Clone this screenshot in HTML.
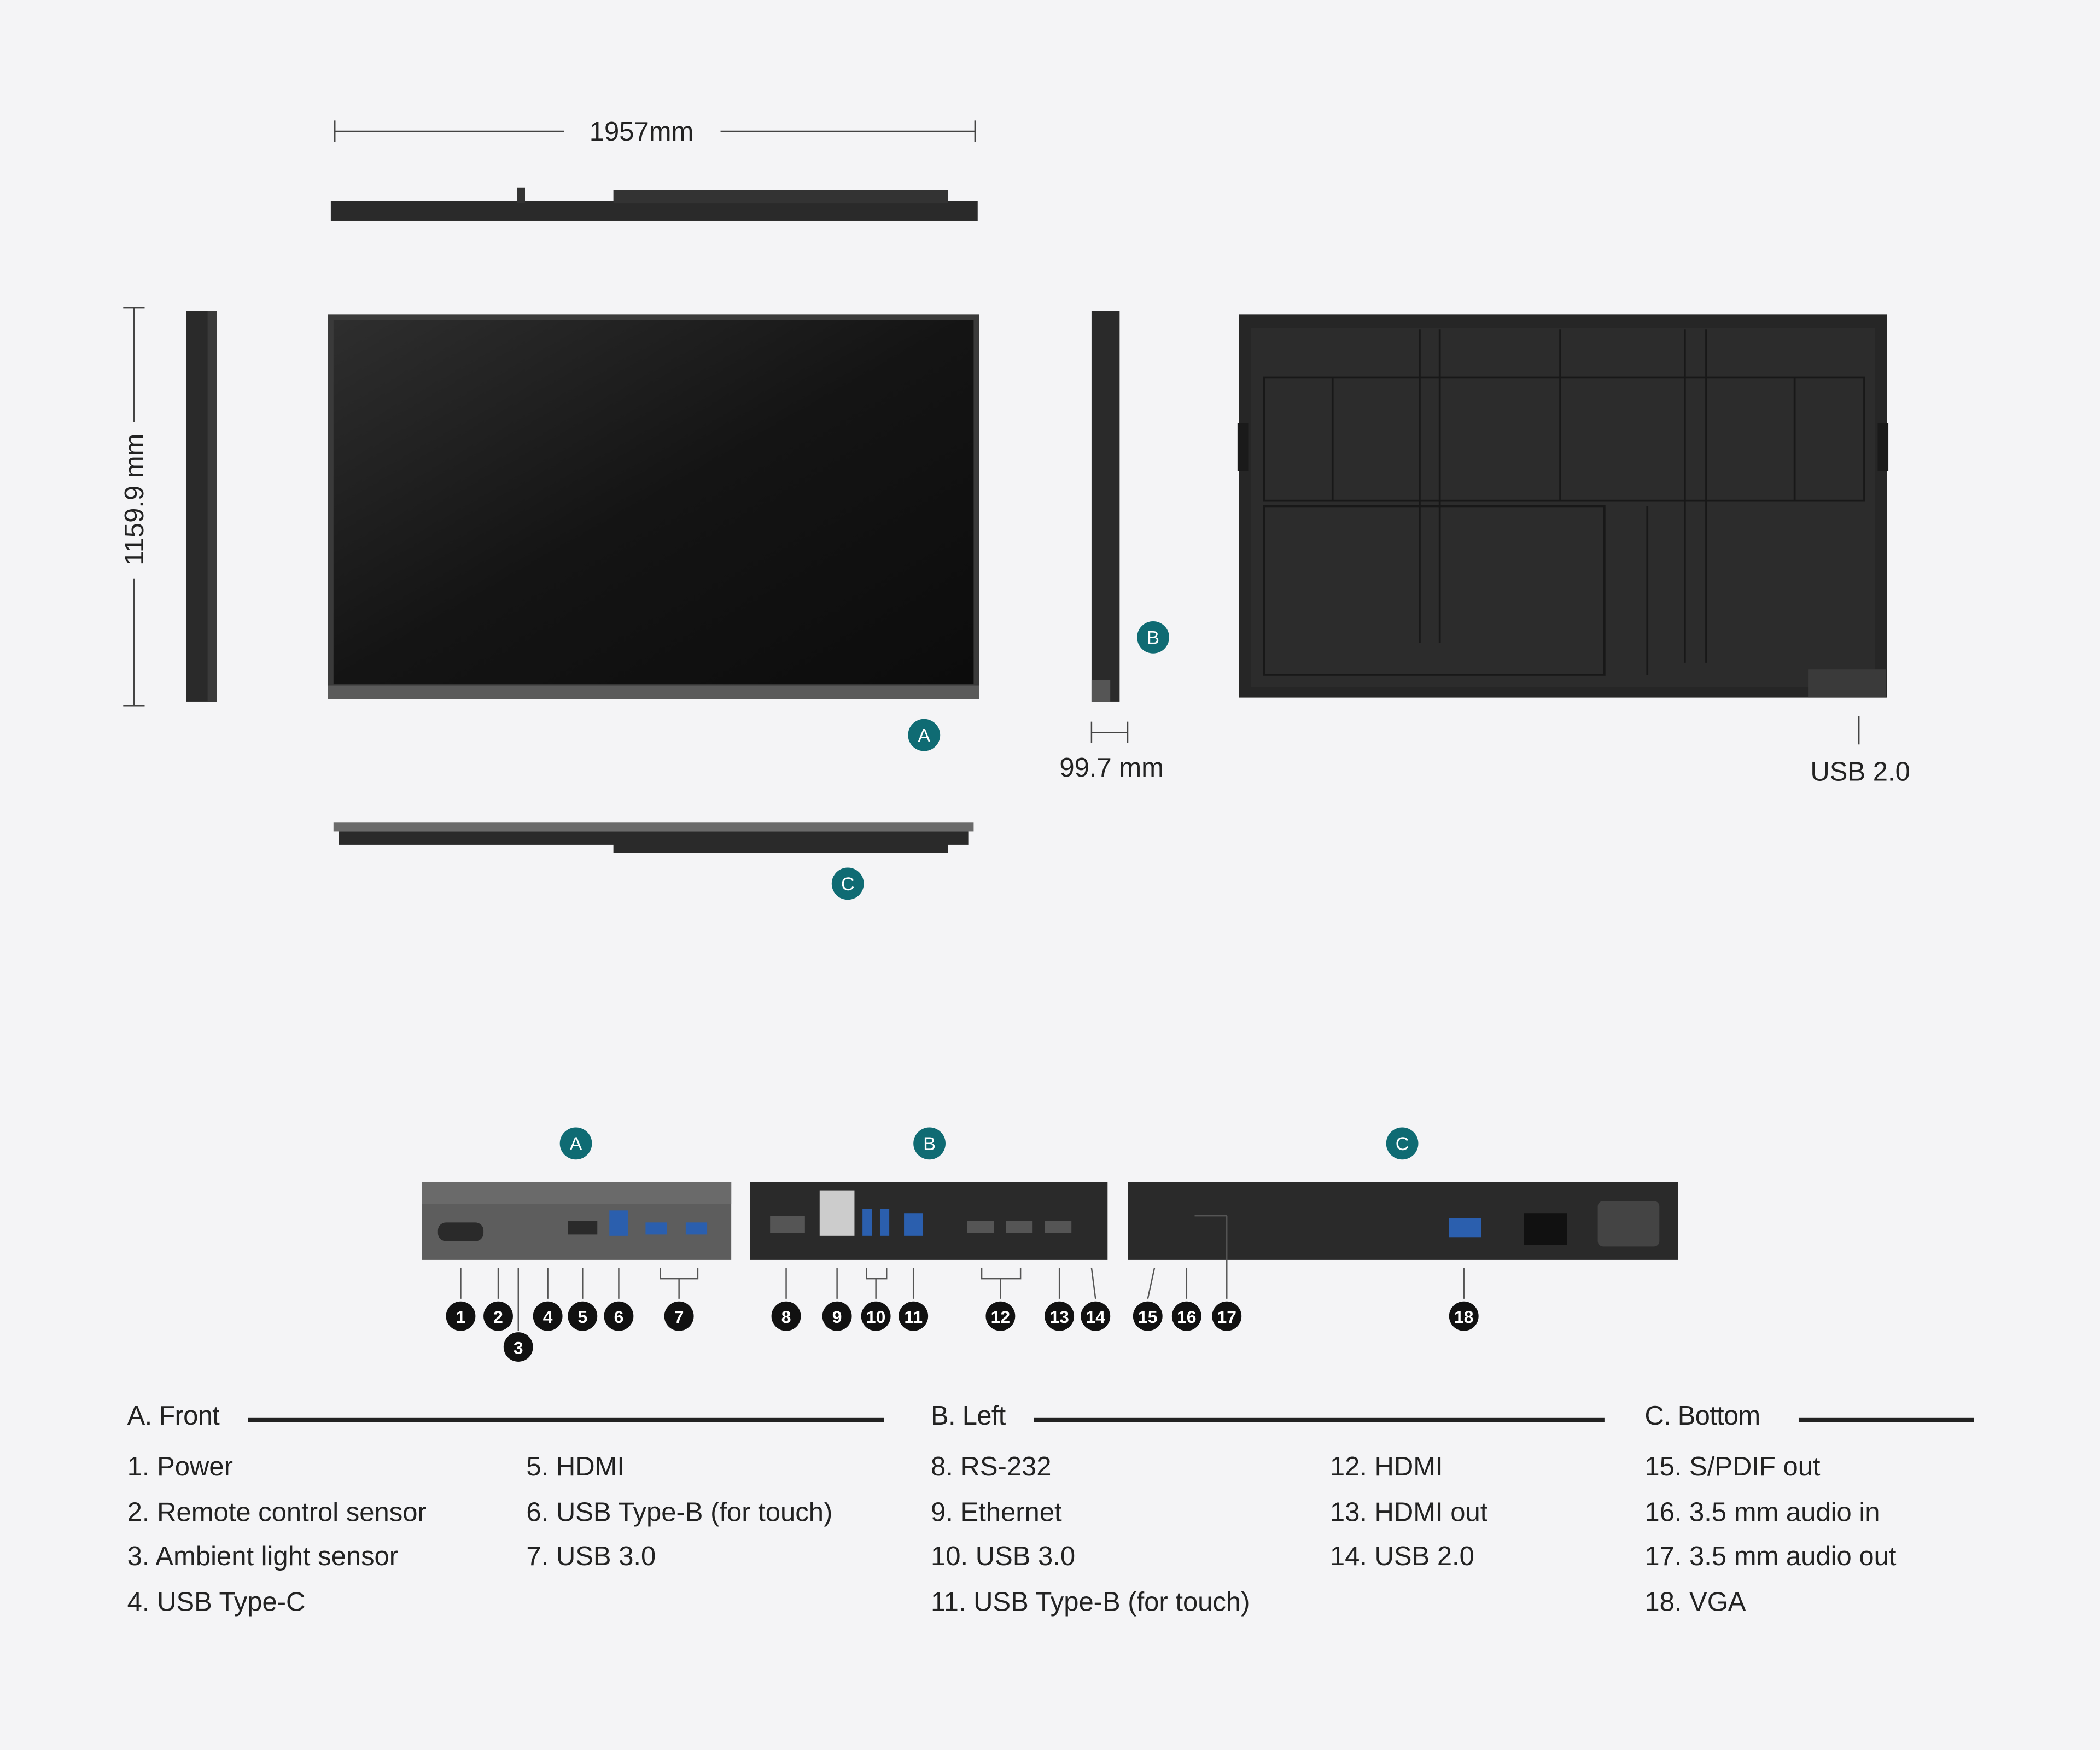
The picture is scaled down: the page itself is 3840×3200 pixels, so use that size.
<!DOCTYPE html>
<html><head><meta charset="utf-8"><style>
html,body{margin:0;padding:0;background:#f4f4f6;}
svg{display:block;}
text{font-family:"Liberation Sans",sans-serif;}
</style></head><body>
<svg width="3840" height="3200" viewBox="0 0 1568 1307" preserveAspectRatio="none" xmlns="http://www.w3.org/2000/svg">
<defs>
<linearGradient id="scr" x1="0" y1="0" x2="1" y2="1">
<stop offset="0" stop-color="#2e2e2e"/><stop offset="0.5" stop-color="#141414"/><stop offset="1" stop-color="#0c0c0c"/>
</linearGradient>
</defs>
<rect width="1568" height="1307" fill="#f4f4f6"/>
<g stroke="#444" stroke-width="1">
<line x1="250" y1="98" x2="421" y2="98"/><line x1="538" y1="98" x2="728" y2="98"/>
<line x1="250" y1="90" x2="250" y2="106"/><line x1="728" y1="90" x2="728" y2="106"/>
<line x1="100" y1="230" x2="100" y2="315"/><line x1="100" y1="432" x2="100" y2="527"/>
<line x1="92" y1="230" x2="108" y2="230"/><line x1="92" y1="527" x2="108" y2="527"/>
<line x1="815" y1="547" x2="842" y2="547"/><line x1="815" y1="539" x2="815" y2="555"/><line x1="842" y1="539" x2="842" y2="555"/>
<line x1="1388" y1="535" x2="1388" y2="556"/>
</g>
<text x="479" y="105" font-size="20" text-anchor="middle" fill="#222" font-weight="500">1957mm</text>
<text transform="translate(107,373) rotate(-90)" font-size="20" text-anchor="middle" fill="#222" font-weight="500">1159.9 mm</text>
<text x="830" y="580" font-size="20" text-anchor="middle" fill="#222" font-weight="500">99.7 mm</text>
<text x="1389" y="583" font-size="20" text-anchor="middle" fill="#222">USB 2.0</text>
<rect x="247" y="150" width="483" height="15" fill="#2a2a2a"/>
<rect x="458" y="142" width="250" height="10" fill="#333"/>
<rect x="386" y="140" width="6" height="12" fill="#333"/>
<rect x="139" y="232" width="23" height="292" fill="#2a2a2a"/>
<rect x="155" y="232" width="7" height="292" fill="#3a3a3a"/>
<rect x="245" y="235" width="486" height="287" fill="#3a3a3a"/>
<rect x="249" y="239" width="478" height="272" fill="url(#scr)"/>
<rect x="245" y="512" width="486" height="10" fill="#5a5a5a"/>
<rect x="815" y="232" width="21" height="292" fill="#2a2a2a"/>
<rect x="815" y="508" width="14" height="16" fill="#555"/>
<rect x="925" y="235" width="484" height="286" fill="#262626"/>
<rect x="934" y="245" width="466" height="268" fill="#2c2c2c"/>
<g fill="none" stroke="#181818" stroke-width="1.5">
<rect x="944" y="282" width="448" height="92"/>
<rect x="944" y="378" width="254" height="126"/>
<line x1="1060" y1="246" x2="1060" y2="480"/><line x1="1075" y1="246" x2="1075" y2="480"/>
<line x1="1258" y1="246" x2="1258" y2="495"/><line x1="1274" y1="246" x2="1274" y2="495"/>
<line x1="1165" y1="246" x2="1165" y2="374"/>
<line x1="995" y1="282" x2="995" y2="374"/><line x1="1340" y1="282" x2="1340" y2="374"/>
<line x1="1230" y1="378" x2="1230" y2="504"/>
</g>
<rect x="924" y="316" width="8" height="36" fill="#1a1a1a"/><rect x="1402" y="316" width="8" height="36" fill="#1a1a1a"/>
<rect x="1350" y="500" width="58" height="21" fill="#3a3a3a"/>
<rect x="249" y="614" width="478" height="7" fill="#6a6a6a"/>
<rect x="253" y="621" width="470" height="10" fill="#2a2a2a"/>
<rect x="458" y="628" width="250" height="9" fill="#2a2a2a"/>
<g font-size="14" fill="#fff" text-anchor="middle" font-weight="500">
<circle cx="690" cy="549" r="12" fill="#0f6b73"/><text x="690" y="554">A</text>
<circle cx="861" cy="476" r="12" fill="#0f6b73"/><text x="861" y="481">B</text>
<circle cx="633" cy="660" r="12" fill="#0f6b73"/><text x="633" y="665">C</text>
<circle cx="430" cy="854" r="12" fill="#0f6b73"/><text x="430" y="859">A</text>
<circle cx="694" cy="854" r="12" fill="#0f6b73"/><text x="694" y="859">B</text>
<circle cx="1047" cy="854" r="12" fill="#0f6b73"/><text x="1047" y="859">C</text>
</g>
<rect x="315" y="883" width="231" height="58" fill="#5d5d5d"/>
<rect x="315" y="883" width="231" height="16" fill="#6a6a6a"/>
<rect x="327" y="913" width="34" height="14" rx="6" fill="#2a2a2a"/>
<rect x="424" y="912" width="22" height="10" fill="#2a2a2a"/>
<rect x="455" y="904" width="14" height="19" fill="#2b5fae"/>
<rect x="482" y="913" width="16" height="9" fill="#2b5fae"/><rect x="512" y="913" width="16" height="9" fill="#2b5fae"/>
<rect x="560" y="883" width="267" height="58" fill="#2a2a2a"/>
<rect x="612" y="889" width="26" height="34" fill="#ccc"/>
<rect x="575" y="908" width="26" height="13" fill="#555"/>
<rect x="644" y="903" width="7" height="20" fill="#2b5fae"/><rect x="657" y="903" width="7" height="20" fill="#2b5fae"/>
<rect x="675" y="906" width="14" height="17" fill="#2b5fae"/>
<rect x="722" y="912" width="20" height="9" fill="#555"/><rect x="751" y="912" width="20" height="9" fill="#555"/><rect x="780" y="912" width="20" height="9" fill="#555"/>
<rect x="842" y="883" width="411" height="58" fill="#2a2a2a"/>
<rect x="1193" y="897" width="46" height="34" rx="4" fill="#444"/>
<rect x="1138" y="906" width="32" height="24" fill="#111"/>
<rect x="1082" y="910" width="24" height="14" fill="#2b5fae"/>
<g stroke="#555" stroke-width="1" fill="none">
<path d="M344 947V970M372 947V970M387 947V994M409 947V970M435 947V970M462 947V970M493 947V955H521V947M507 955V970"/>
<path d="M587 947V970M625 947V970M647 947V955H662V947M654 955V970M682 947V970M733 947V955H762V947M747 955V970M791 947V970M815 947L818 970"/>
<path d="M862 947L857 970M886 947V970M916 908V970M892 908H916M1093 947V970"/>
</g>
<g font-size="13" fill="#fff" text-anchor="middle" font-weight="bold">
<circle cx="344" cy="983" r="11" fill="#111"/><text x="344" y="988">1</text>
<circle cx="372" cy="983" r="11" fill="#111"/><text x="372" y="988">2</text>
<circle cx="387" cy="1006" r="11" fill="#111"/><text x="387" y="1011">3</text>
<circle cx="409" cy="983" r="11" fill="#111"/><text x="409" y="988">4</text>
<circle cx="435" cy="983" r="11" fill="#111"/><text x="435" y="988">5</text>
<circle cx="462" cy="983" r="11" fill="#111"/><text x="462" y="988">6</text>
<circle cx="507" cy="983" r="11" fill="#111"/><text x="507" y="988">7</text>
<circle cx="587" cy="983" r="11" fill="#111"/><text x="587" y="988">8</text>
<circle cx="625" cy="983" r="11" fill="#111"/><text x="625" y="988">9</text>
<circle cx="654" cy="983" r="11" fill="#111"/><text x="654" y="988">10</text>
<circle cx="682" cy="983" r="11" fill="#111"/><text x="682" y="988">11</text>
<circle cx="747" cy="983" r="11" fill="#111"/><text x="747" y="988">12</text>
<circle cx="791" cy="983" r="11" fill="#111"/><text x="791" y="988">13</text>
<circle cx="818" cy="983" r="11" fill="#111"/><text x="818" y="988">14</text>
<circle cx="857" cy="983" r="11" fill="#111"/><text x="857" y="988">15</text>
<circle cx="886" cy="983" r="11" fill="#111"/><text x="886" y="988">16</text>
<circle cx="916" cy="983" r="11" fill="#111"/><text x="916" y="988">17</text>
<circle cx="1093" cy="983" r="11" fill="#111"/><text x="1093" y="988">18</text>
</g>
<g fill="#222" font-size="20">
<text x="95" y="1064" font-weight="500" letter-spacing="-0.3">A. Front</text>
<text x="695" y="1064" font-weight="500" letter-spacing="-0.3">B. Left</text>
<text x="1228" y="1064" font-weight="500" letter-spacing="-0.3">C. Bottom</text>
<text x="95" y="1102">1. Power</text><text x="95" y="1136">2. Remote control sensor</text><text x="95" y="1169">3. Ambient light sensor</text><text x="95" y="1203">4. USB Type-C</text>
<text x="393" y="1102">5. HDMI</text><text x="393" y="1136">6. USB Type-B (for touch)</text><text x="393" y="1169">7. USB 3.0</text>
<text x="695" y="1102">8. RS-232</text><text x="695" y="1136">9. Ethernet</text><text x="695" y="1169">10. USB 3.0</text><text x="695" y="1203">11. USB Type-B (for touch)</text>
<text x="993" y="1102">12. HDMI</text><text x="993" y="1136">13. HDMI out</text><text x="993" y="1169">14. USB 2.0</text>
<text x="1228" y="1102">15. S/PDIF out</text><text x="1228" y="1136">16. 3.5 mm audio in</text><text x="1228" y="1169">17. 3.5 mm audio out</text><text x="1228" y="1203">18. VGA</text>
</g>
<g fill="#222">
<rect x="185" y="1059" width="475" height="3"/>
<rect x="772" y="1059" width="426" height="3"/>
<rect x="1343" y="1059" width="131" height="3"/>
</g>
</svg>
</body></html>
